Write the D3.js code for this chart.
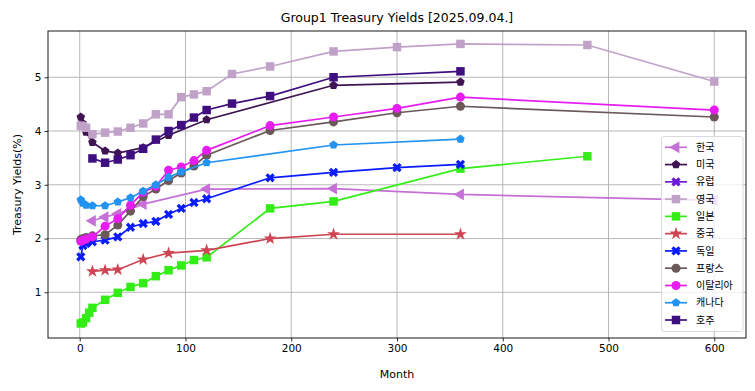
<!DOCTYPE html>
<html>
<head>
<meta charset="utf-8">
<script src="https://cdn.jsdelivr.net/npm/d3@7"></script>
<style>
  html, body { margin: 0; padding: 0; background: #fff; }
  svg { display: block; font-family: "DejaVu Sans", sans-serif; }
  .legend text { font-family: "Noto Sans CJK KR", "DejaVu Sans", sans-serif; }
</style>
</head>
<body>
<svg id="chart" width="755" height="391"></svg>
<script>
(function () {
  "use strict";

  var title = "Group1 Treasury Yields [2025.09.04.]";
  var xTicks = [0, 100, 200, 300, 400, 500, 600];
  var yTicks = [1, 2, 3, 4, 5];

  var krMonths = [12, 24, 36, 60, 120, 240, 360, 600];
  var krYields = [2.33, 2.40, 2.46, 2.64, 2.92, 2.93, 2.82, 2.71];

  var usMonths = [1, 3, 6, 12, 24, 36, 60, 84, 120, 240, 360];
  var usYields = [4.26, 4.14, 3.98, 3.79, 3.63, 3.59, 3.69, 3.92, 4.21, 4.85, 4.91];

  var euMonths = [];
  var euYields = [];

  var ukMonths = [1, 3, 6, 12, 24, 36, 48, 60, 72, 84, 96, 108, 120, 144, 180, 240, 300, 360, 480, 600];
  var ukYields = [4.10, 4.09, 4.06, 3.94, 3.97, 3.99, 4.06, 4.14, 4.31, 4.31, 4.63, 4.68, 4.74, 5.06, 5.20, 5.48, 5.56, 5.62, 5.60, 4.92];

  var jpMonths = [1, 3, 6, 9, 12, 24, 36, 48, 60, 72, 84, 96, 108, 120, 180, 240, 360, 480];
  var jpYields = [0.42, 0.44, 0.52, 0.62, 0.71, 0.86, 0.99, 1.10, 1.17, 1.30, 1.41, 1.50, 1.60, 1.65, 2.56, 2.69, 3.30, 3.53];

  var cnMonths = [12, 24, 36, 60, 84, 120, 180, 240, 360];
  var cnYields = [1.39, 1.41, 1.42, 1.61, 1.73, 1.78, 2.00, 2.08, 2.08];

  var deMonths = [1, 3, 6, 12, 24, 36, 48, 60, 72, 84, 96, 108, 120, 180, 240, 300, 360];
  var deYields = [1.66, 1.87, 1.91, 1.94, 1.97, 2.03, 2.21, 2.28, 2.32, 2.45, 2.56, 2.67, 2.74, 3.13, 3.23, 3.32, 3.38];

  var frMonths = [1, 3, 6, 12, 24, 36, 48, 60, 72, 84, 96, 108, 120, 180, 240, 300, 360, 600];
  var frYields = [1.98, 2.00, 2.02, 2.05, 2.07, 2.25, 2.51, 2.78, 2.92, 3.08, 3.22, 3.35, 3.55, 4.01, 4.17, 4.34, 4.46, 4.26];

  var itMonths = [1, 3, 6, 12, 24, 36, 48, 60, 72, 84, 96, 108, 120, 180, 240, 300, 360, 600];
  var itYields = [1.95, 1.97, 1.99, 2.03, 2.23, 2.37, 2.62, 2.86, 2.97, 3.27, 3.33, 3.45, 3.64, 4.10, 4.26, 4.42, 4.63, 4.39];

  var caMonths = [1, 3, 6, 12, 24, 36, 48, 60, 72, 84, 96, 120, 240, 360];
  var caYields = [2.72, 2.66, 2.62, 2.61, 2.61, 2.68, 2.76, 2.88, 3.00, 3.14, 3.24, 3.41, 3.74, 3.85];

  var auMonths = [12, 24, 36, 48, 60, 72, 84, 96, 108, 120, 144, 180, 240, 360];
  var auYields = [3.49, 3.41, 3.47, 3.55, 3.67, 3.84, 4.00, 4.11, 4.25, 4.39, 4.51, 4.65, 5.00, 5.11];

  var names = ["한국", "미국", "유럽", "영국", "일본", "중국", "독일", "프랑스", "이탈리아", "캐나다", "호주"];
  var colors = ["#c670d6", "#3e1452", "#6a19d8", "#c0a2c8", "#33ee16", "#cf4452", "#0a1cff", "#6b5858", "#e61cf0", "#2293f0", "#3f0f80"];
  var markers = ["tri-left", "pentagon", "x", "square", "square", "star", "x", "circle", "circle", "pentagon", "square"];
  var monthSets = [krMonths, usMonths, euMonths, ukMonths, jpMonths, cnMonths, deMonths, frMonths, itMonths, caMonths, auMonths];
  var yieldSets = [krYields, usYields, euYields, ukYields, jpYields, cnYields, deYields, frYields, itYields, caYields, auYields];

  var series = names.map(function (name, i) {
    return {
      name: name,
      color: colors[i],
      marker: markers[i],
      points: monthSets[i].map(function (m, j) { return { month: m, value: yieldSets[i][j] }; })
    };
  });

  var plot = { left: 48, right: 746, top: 31, bottom: 338 };
  var svg = d3.select("#chart");

  var x = d3.scaleLinear().domain([-30, 630]).range([plot.left, plot.right]);
  var y = d3.scaleLinear().domain([0.15, 5.86]).range([plot.bottom, plot.top]);

  var pentagon = {
    draw: function (context, size) {
      var r = Math.sqrt(size / 2.378);
      for (var k = 0; k < 5; k++) {
        var a = -Math.PI / 2 + k * 2 * Math.PI / 5;
        if (k === 0) context.moveTo(r * Math.cos(a), r * Math.sin(a));
        else context.lineTo(r * Math.cos(a), r * Math.sin(a));
      }
      context.closePath();
    }
  };

  function markerPath(kind) {
    if (kind === "square") return d3.symbol(d3.symbolSquare, 72)();
    if (kind === "circle") return d3.symbol(d3.symbolCircle, 64)();
    if (kind === "star") return d3.symbol(d3.symbolStar, 52)();
    if (kind === "x") return d3.symbol(d3.symbolCross, 54)();
    if (kind === "pentagon") return d3.symbol(pentagon, 48)();
    return d3.symbol(d3.symbolTriangle, 60)();
  }

  function markerRotate(kind) {
    if (kind === "x") return 45;
    if (kind === "tri-left") return -90;
    return 0;
  }

  // grid
  var grid = svg.append("g").attr("stroke", "#b0b0b0").attr("stroke-width", 0.9);
  grid.selectAll("line.gx").data(xTicks).join("line")
    .attr("x1", function (d) { return x(d); }).attr("x2", function (d) { return x(d); })
    .attr("y1", plot.top).attr("y2", plot.bottom);
  grid.selectAll("line.gy").data(yTicks).join("line")
    .attr("class", "gy")
    .attr("y1", function (d) { return y(d); }).attr("y2", function (d) { return y(d); })
    .attr("x1", plot.left).attr("x2", plot.right);

  // series
  var line = d3.line().x(function (d) { return x(d.month); }).y(function (d) { return y(d.value); });
  series.forEach(function (s) {
    var g = svg.append("g");
    g.append("path")
      .datum(s.points)
      .attr("d", line)
      .attr("fill", "none")
      .attr("stroke", s.color)
      .attr("stroke-width", 1.7);
    g.selectAll("path.mk").data(s.points).join("path")
      .attr("class", "mk")
      .attr("d", markerPath(s.marker))
      .attr("fill", s.color)
      .attr("transform", function (d) {
        return "translate(" + x(d.month) + "," + y(d.value) + ") rotate(" + markerRotate(s.marker) + ")";
      });
  });

  // axes
  var xAxis = svg.append("g")
    .attr("transform", "translate(0," + plot.bottom + ")")
    .call(d3.axisBottom(x).tickValues(xTicks).tickSize(3.5).tickPadding(3).tickFormat(d3.format("d")));
  var yAxis = svg.append("g")
    .attr("transform", "translate(" + plot.left + ",0)")
    .call(d3.axisLeft(y).tickValues(yTicks).tickSize(3.5).tickPadding(3).tickFormat(d3.format("d")));
  [xAxis, yAxis].forEach(function (a) {
    a.select(".domain").remove();
    a.selectAll("text").attr("font-size", 10.5).attr("font-family", "DejaVu Sans").attr("fill", "#000");
    a.selectAll("line").attr("stroke", "#000").attr("stroke-width", 0.8);
  });

  svg.append("rect")
    .attr("x", plot.left).attr("y", plot.top)
    .attr("width", plot.right - plot.left).attr("height", plot.bottom - plot.top)
    .attr("fill", "none").attr("stroke", "#000").attr("stroke-width", 0.9);

  svg.append("text")
    .attr("x", (plot.left + plot.right) / 2).attr("y", 22)
    .attr("text-anchor", "middle").attr("font-size", 12.5)
    .text(title);
  svg.append("text")
    .attr("x", (plot.left + plot.right) / 2).attr("y", 378)
    .attr("text-anchor", "middle").attr("font-size", 11)
    .text("Month");
  svg.append("text")
    .attr("transform", "translate(21," + (plot.top + plot.bottom) / 2 + ") rotate(-90)")
    .attr("text-anchor", "middle").attr("font-size", 11)
    .text("Treasury Yields(%)");

  // legend
  var legend = svg.append("g").attr("class", "legend");
  legend.append("rect")
    .attr("x", 661.5).attr("y", 136.5).attr("width", 81.5).attr("height", 195)
    .attr("rx", 2.5)
    .attr("fill", "#fff").attr("fill-opacity", 0.8)
    .attr("stroke", "#d6d6d6").attr("stroke-width", 0.9);
  var rows = legend.selectAll("g.row").data(series).join("g")
    .attr("class", "row")
    .attr("transform", function (d, i) { return "translate(0," + (147.3 + i * 17.27) + ")"; });
  rows.append("line")
    .attr("x1", 665).attr("x2", 687).attr("y1", 0).attr("y2", 0)
    .attr("stroke", function (d) { return d.color; }).attr("stroke-width", 1.7);
  rows.append("path")
    .attr("d", function (d) { return markerPath(d.marker); })
    .attr("fill", function (d) { return d.color; })
    .attr("transform", function (d) { return "translate(676,0) rotate(" + markerRotate(d.marker) + ")"; });
  rows.append("text")
    .attr("x", 696).attr("y", 3.6)
    .attr("font-size", 10)
    .text(function (d) { return d.name; });
})();
</script>
</body>
</html>
